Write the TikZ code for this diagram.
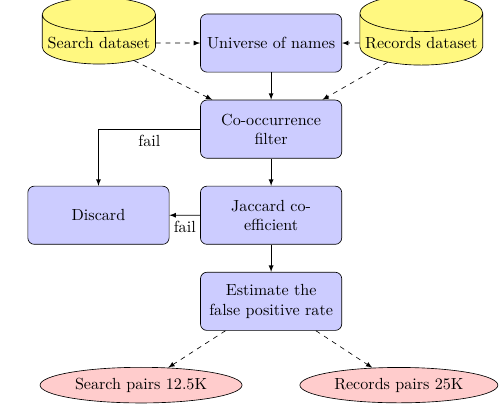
\documentclass[tikz,border=0pt]{standalone}
\usetikzlibrary{shapes.geometric}
\begin{document}
\begin{tikzpicture}[node distance={18.8mm}, >=latex,
		box/.style = {draw, rounded corners, fill=blue!20, text width=2.85cm, align=center, minimum height=1.27cm},
		dataset/.style = {draw, cylinder, shape border rotate=90, aspect=0.3, fill=yellow!50},
		pairs/.style = {draw, ellipse, fill=red!20}]
		\useasboundingbox (-5.92,0.94) rectangle (5.02,-7.9);
		\node[box] (univ) {Universe of names};
		\node[box] (cooc) [below of=univ] {Co-occurrence filter};
		\node[box] (jacc) [below of=cooc] {Jaccard co-efficient};
		\node[box] (est) [below of=jacc] {Estimate the false positive rate};
		\node[box] (disc) at (-3.77,-3.76) {Discard};
		\node[dataset] (search) at (-3.76,0) {Search dataset};
		\node[dataset] (records) at (3.28,0) {Records dataset};
		\node[pairs] (spairs) at (-2.84,-7.47) {Search pairs 12.5K};
		\node[pairs] (rpairs) at (2.79,-7.47) {Records pairs 25K};
		\draw[->, dashed] (search) -- (univ);
		\draw[->, dashed] (records) -- (univ);
		\draw[->, dashed] (search) -- (cooc);
		\draw[->, dashed] (records) -- (cooc);
		\draw[->] (univ) -- (cooc);
		\draw[->] (cooc) -- (jacc);
		\draw[->] (jacc) -- (est);
		\draw[->] (cooc) -| node[pos=0.25, below] {fail} (disc);
		\draw[->] (jacc) -- node[below] {fail} (disc);
		\draw[->, dashed] (est) -- (spairs);
		\draw[->, dashed] (est) -- (rpairs);
	\end{tikzpicture}
\end{document}
